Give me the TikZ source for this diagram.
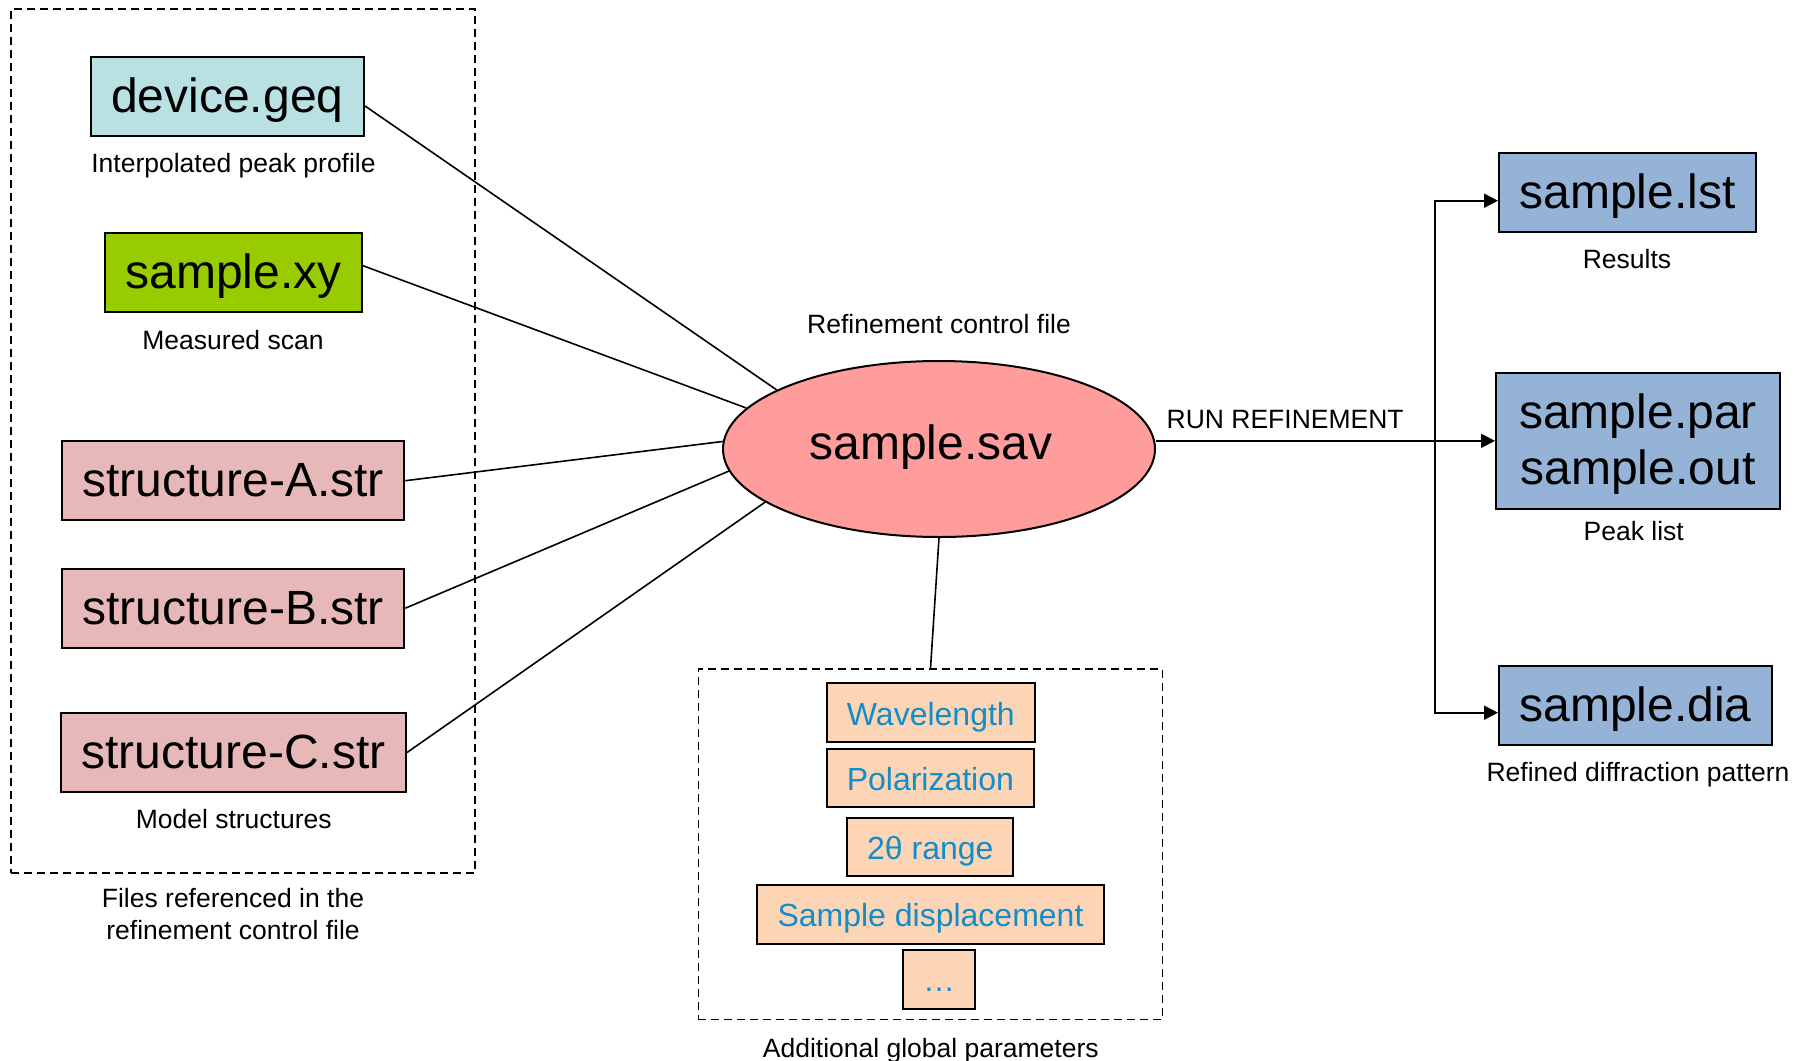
\documentclass[tikz,border=0pt]{standalone}
\usepackage{fontspec}
\setmainfont{Liberation Sans}
\usetikzlibrary{arrows.meta,shapes.geometric}
\definecolor{geqfill}{HTML}{B9E0E3}
\definecolor{xyfill}{HTML}{99CC00}
\definecolor{strfill}{HTML}{E6B9B8}
\definecolor{savfill}{HTML}{FF9D9D}
\definecolor{outfill}{HTML}{95B3D7}
\definecolor{parfill}{HTML}{FBD5B5}
\definecolor{partext}{RGB}{20,140,200}
\tikzset{
  filebox/.style={draw=black, line width=2pt, inner sep=0pt,
    font=\fontsize{48}{56.4}\selectfont, text height=36pt, text depth=4pt},
  parambox/.style={draw=black, line width=2pt, inner sep=0pt, fill=parfill,
    text=partext, font=\fontsize{32}{38}\selectfont, text height=28pt, text depth=3.6pt},
  dashbox/.style={draw=black, line width=1.5pt, dash pattern=on 8pt off 5pt, inner sep=0pt},
  caption/.style={font=\fontsize{26.5}{32}\selectfont, inner sep=0pt, anchor=base},
  link/.style={draw=black, line width=1.6pt},
  flow/.style={draw=black, line width=1.8pt, -{Triangle[length=14pt,width=14pt]}}
}
\begin{document}
\begin{tikzpicture}[x=1pt,y=-1pt]
\useasboundingbox (0,0) rectangle (1806,1060);

% input files referenced by the control file
\node[dashbox, minimum width=464, minimum height=864.2] (inputs) at (243,441.1) {};
\node[filebox, fill=geqfill, minimum width=273.3, minimum height=79.3] (geq) at (227.35,96.35) {device.geq};
\node[caption] (geqcap) at (233.5,172.5) {Interpolated peak profile};
\node[filebox, fill=xyfill, minimum width=257, minimum height=79.6] (xy) at (233.5,272.5) {sample.xy};
\node[caption] (xycap) at (233,349.3) {Measured scan};
\node[filebox, fill=strfill, minimum width=342.6, minimum height=79.3] (strA) at (233,480.7) {structure-A.str};
\node[filebox, fill=strfill, minimum width=342.6, minimum height=78.6] (strB) at (233,608.2) {structure-B.str};
\node[filebox, fill=strfill, minimum width=345.3, minimum height=78.6] (strC) at (233.35,752.5) {structure-C.str};
\node[caption] (strcap) at (233.7,828.6) {Model structures};
\node[caption] (inputscap) at (233,907.9)
  {\begin{tabular}[t]{@{}c@{}}Files referenced in the\\refinement control file\end{tabular}};

% control file
\node[ellipse, draw=black, line width=2pt, fill=savfill, inner sep=0pt,
      minimum width=432, minimum height=176,
      font=\fontsize{48}{56.4}\selectfont, text height=30pt, text depth=10pt]
      (sav) at (939,449) {\makebox[0pt]{sample.sav\hspace{16pt}}};
\node[caption] (savcap) at (939,333) {Refinement control file};

% global parameters
\node[dashbox, minimum width=464.4, minimum height=350.3] (params) at (930.5,844.15) {};
\node[parambox, minimum width=208.3, minimum height=59] (wave) at (930.85,712.8) {Wavelength};
\node[parambox, minimum width=207.3, minimum height=58.3] (pol) at (930.35,778.15) {Polarization};
\node[parambox, minimum width=166, minimum height=58.6] (tth) at (930.3,847) {2θ range};
\node[parambox, minimum width=347, minimum height=58.7] (disp) at (930.5,914.65) {Sample displacement};
\node[parambox, minimum width=72, minimum height=59] (more) at (939,979.2) {\dots};
\node[caption] (paramscap) at (930.8,1057) {Additional global parameters};

% output files
\node[filebox, fill=outfill, minimum width=257, minimum height=79.6] (lst) at (1627.5,192.5) {sample.lst};
\node[caption] (lstcap) at (1627,268.3) {Results};
\node[draw=black, line width=2pt, inner sep=0pt, fill=outfill,
      font=\fontsize{48}{56.4}\selectfont,
      minimum width=284, minimum height=136.3]
      (par) at (1638,440.85) {\begin{tabular}{@{}c@{}}\rule{0pt}{48.7pt}sample.par\\sample.out\end{tabular}};
\node[caption] (parcap) at (1633.8,540.7) {Peak list};
\node[filebox, fill=outfill, minimum width=273, minimum height=79] (dia) at (1635.5,705.5) {sample.dia};
\node[caption] (diacap) at (1638,781) {Refined diffraction pattern};

% references into the control file
\draw[link] (geq.-4) -- (sav.160.5);
\draw[link] (xy.3) -- (sav.168.1);
\draw[link] (strA.east) -- (sav.178.7);
\draw[link] (strB.east) -- (sav.186.65);
\draw[link] (strC.east) -- (sav.197.6);
\draw[link] (sav.south) -- (params.north);

% refinement run
\coordinate (jtop) at (1435,200.7);
\coordinate (jbot) at (1435,712.7);
\draw[flow] (par.west -| sav.east) -- node[caption, pos=0.381, yshift=12.7pt] (runlbl) {RUN REFINEMENT} (par.west);
\draw[draw=black, line width=1.8pt, {Triangle[length=14pt,width=14pt]}-{Triangle[length=14pt,width=14pt]}]
  (jtop -| lst.west) -- (jtop) -- (jbot) -- (jbot -| dia.west);
\end{tikzpicture}
\end{document}
